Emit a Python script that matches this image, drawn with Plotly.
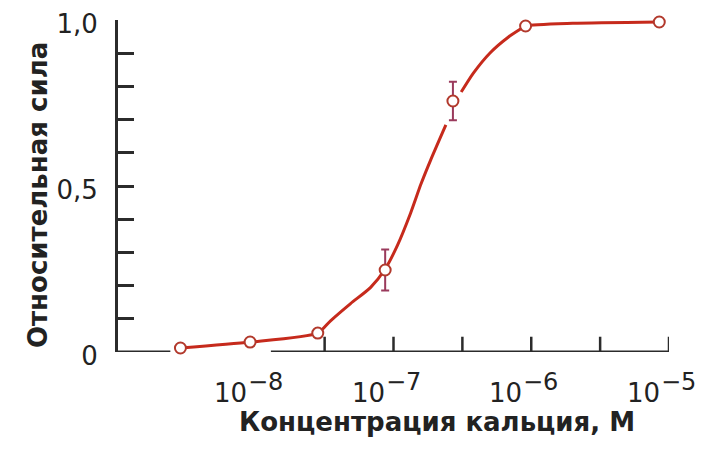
import math
import plotly.graph_objects as go

# Data
conc = [2.84e-9, 9.1e-9, 2.82e-8, 8.7e-8, 2.7e-7, 9.1e-7, 8.5e-6]
force = [0.012, 0.03, 0.057, 0.247, 0.756, 0.982, 0.994]
err = [0, 0, 0, 0.062, 0.058, 0, 0]

curve_x = [2.84e-9, 9.1e-9, 2.82e-8, 3.49e-8, 4.88e-8, 6.8e-8, 8.7e-8, 1.07e-7,
           1.33e-7, 1.58e-7, 1.86e-7, 2.4e-7, None,
           3.1e-7, 3.8e-7, 5.0e-7, 6.8e-7, 8.3e-7, 9.1e-7, 2.0e-6, 8.5e-6]
curve_y = [0.012, 0.03, 0.057, 0.094, 0.146, 0.194, 0.25, 0.322,
           0.418, 0.505, 0.578, 0.684, None,
           0.783, 0.84, 0.90, 0.948, 0.972, 0.982, 0.99, 0.994]

x_tick_vals = [1e-8, 1e-7, 1e-6, 1e-5]
x_tick_base = ["10", "10", "10", "10"]
x_tick_exp = ["−8", "−7", "−6", "−5"]
x_tick_marks = [10**-7.5, 1e-7, 10**-6.5, 1e-6, 10**-5.5, 1e-5]
x_axis_segments = [(1e-9, 10**-8.62), (10**-7.89, 1e-5)]

y_tick_vals = [0, 0.5, 1.0]
y_tick_text = ["0", "0,5", "1,0"]

AX = "#2b2b2b"
RED = "#c62a1c"
TXT = "#222"
FONT = "DejaVu Sans"

fig = go.Figure()

# x axis line (broken) and ticks
ax_x, ax_y = [], []
for a, b in x_axis_segments:
    ax_x += [a, b, None]
    ax_y += [0, 0, None]
fig.add_trace(go.Scatter(x=ax_x, y=ax_y, mode="lines", line=dict(color=AX, width=3),
                         hoverinfo="skip", showlegend=False, cliponaxis=False))
tk_x, tk_y = [], []
for t in x_tick_marks:
    tk_x += [t, t, None]
    tk_y += [0, 0.046, None]
fig.add_trace(go.Scatter(x=tk_x, y=tk_y, mode="lines", line=dict(color=AX, width=2.5),
                         hoverinfo="skip", showlegend=False, cliponaxis=False))

# fitted curve
fig.add_trace(go.Scatter(x=curve_x, y=curve_y, mode="lines",
                         line=dict(color=RED, width=3, shape="spline", smoothing=0.6),
                         connectgaps=False, showlegend=False, cliponaxis=False))

# data points with error bars
fig.add_trace(go.Scatter(x=conc, y=force, mode="markers",
                         marker=dict(symbol="circle", size=11, color="white",
                                     line=dict(color="#b2392c", width=2)),
                         error_y=dict(type="data", array=err, visible=True,
                                      color="#9a3a5c", thickness=2, width=4),
                         showlegend=False, cliponaxis=False))

annotations = []
for v, b, e in zip(x_tick_vals, x_tick_base, x_tick_exp):
    lx = math.log10(v)
    annotations.append(dict(text=b, xref="x", yref="paper", x=lx, y=-0.123,
                            xanchor="right", yanchor="middle", xshift=-8, showarrow=False,
                            borderpad=0, font=dict(size=26, family=FONT, color=TXT)))
    annotations.append(dict(text=e, xref="x", yref="paper", x=lx, y=-0.090,
                            xanchor="left", yanchor="middle", xshift=-9, showarrow=False,
                            borderpad=0, font=dict(size=24, family=FONT, color=TXT)))
annotations += [
    dict(text="Концентрация кальция, М", xref="paper", yref="paper",
         x=0.579, y=-0.212, xanchor="center", yanchor="middle", showarrow=False,
         font=dict(size=26, family=FONT, color=TXT, weight="bold")),
    dict(text="Относительная сила", xref="paper", yref="paper",
         x=-0.145, y=0.473, xanchor="center", yanchor="middle", showarrow=False,
         textangle=-90, font=dict(size=26, family=FONT, color=TXT, weight="bold")),
]

# The page body has an 8px default margin, so the figure is sized/offset for it.
fig.update_layout(
    width=702, height=442,
    margin=dict(l=110, r=41, t=12, b=98, autoexpand=False),
    paper_bgcolor="white", plot_bgcolor="white",
    font=dict(family=FONT, color=TXT),
    xaxis=dict(type="log", range=[-9, -5], showline=False, showgrid=False, zeroline=False,
               automargin=False, ticks="", showticklabels=False),
    yaxis=dict(range=[0, 1], showline=True, linecolor=AX, linewidth=3, showgrid=False,
               zeroline=False, automargin=False, ticklabeloverflow="allow",
               ticks="inside", ticklen=16, tickwidth=2.5, tickcolor=AX,
               tickvals=y_tick_vals, ticktext=y_tick_text, ticklabelshift=4,
               tickfont=dict(size=26, family=FONT, color=TXT), ticklabelstandoff=12,
               minor=dict(dtick=0.1, tick0=0, ticks="inside", ticklen=16, tickwidth=2.5,
                          tickcolor=AX, showgrid=False)),
    annotations=annotations,
)

fig.write_html("out.html")
